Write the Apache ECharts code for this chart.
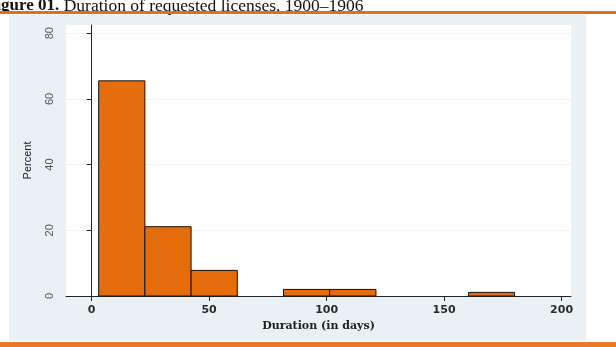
<!DOCTYPE html>
<html><head><meta charset="utf-8">
<script src="https://cdn.jsdelivr.net/npm/echarts@6/dist/echarts.min.js"></script>
<style>html,body{margin:0;padding:0;background:#fff;}#c{width:616px;height:347px;}</style>
</head><body><div id="c"></div>
<script>
// Histogram bins (days) and percent of requests
const binLower = [3, 22.67, 42.33, 62, 81.67, 101.33, 121, 140.67, 160.33];
const binUpper = [22.67, 42.33, 62, 81.67, 101.33, 121, 140.67, 160.33, 180];
const percent  = [65.5, 21.1, 7.8, 0, 2.0, 2.0, 0, 0, 1.1];
const xTicks = [0, 50, 100, 150, 200];
const yTicks = [0, 20, 40, 60, 80];
const titleBold = 'Figure 01.';
const titleText = ' Duration of requested licenses, 1900–1906';
const xName = 'Duration (in days)';
const yName = 'Percent';

const data = binLower.map((l, i) => [l, binUpper[i], percent[i]]).filter(d => d[2] > 0);

const chart = echarts.init(document.getElementById('c'), null, {renderer: 'canvas'});
chart.setOption({
  animation: false,
  backgroundColor: '#ffffff',
  graphic: [
    {type: 'rect', z: -10, shape: {x: 9, y: 15, width: 577, height: 326}, style: {fill: '#E9F1F4'}},
    {type: 'rect', z: 10, shape: {x: 0, y: 11, width: 616, height: 3}, style: {fill: '#E36F16'}},
    {type: 'rect', z: 10, shape: {x: 0, y: 342, width: 616, height: 5}, style: {fill: '#E8792A'}},
    {type: 'text', z: 9, x: -14, y: 15, style: {
      text: '{b|' + titleBold + '}{n|' + titleText + '}',
      verticalAlign: 'bottom',
      rich: {
        b: {fontFamily: 'Liberation Serif', fontWeight: 'bold', fontSize: 17, fill: '#111'},
        n: {fontFamily: 'Liberation Serif', fontSize: 17.5, fill: '#111'}
      }
    }}
  ],
  grid: {left: 66, right: 45, top: 25, bottom: 51, show: true, backgroundColor: '#ffffff', borderWidth: 0},
  xAxis: {
    type: 'value', min: -10.9, max: 204,
    name: xName, nameLocation: 'middle', nameGap: 21,
    nameTextStyle: {fontFamily: 'DejaVu Serif', fontWeight: 'bold', fontSize: 11, color: '#222'},
    axisLine: {show: true, onZero: false, lineStyle: {color: '#222', width: 1}},
    axisTick: {show: true, customValues: xTicks, length: 5, lineStyle: {color: '#222'}},
    axisLabel: {customValues: xTicks, margin: 9, fontFamily: 'DejaVu Sans', fontWeight: 'bold', fontSize: 11, color: '#2a2a2a'},
    splitLine: {show: false}
  },
  yAxis: {
    type: 'value', min: 0, max: 82.5, interval: 20,
    name: yName, nameLocation: 'middle', nameGap: 33, nameRotate: 90,
    nameTextStyle: {fontFamily: 'Liberation Sans', fontSize: 11, color: '#1c1c3a'},
    axisLine: {show: true, lineStyle: {color: '#222', width: 1}},
    axisTick: {show: true, customValues: yTicks, length: 5, lineStyle: {color: '#222'}},
    axisLabel: {customValues: yTicks, rotate: 90, margin: 11, fontFamily: 'Liberation Sans', fontSize: 11, color: '#555'},
    splitLine: {show: true, lineStyle: {color: '#F1F4F5', width: 1}}
  },
  series: [{
    type: 'custom',
    data: data,
    encode: {x: [0, 1], y: 2},
    renderItem: function (params, api) {
      const p0 = api.coord([api.value(0), api.value(2)]);
      const p1 = api.coord([api.value(1), 0]);
      return {
        type: 'rect',
        shape: {x: p0[0], y: p0[1], width: p1[0] - p0[0], height: p1[1] - p0[1]},
        style: {fill: '#E46C0A', stroke: '#1a1208', lineWidth: 1}
      };
    }
  }]
});
</script></body></html>
